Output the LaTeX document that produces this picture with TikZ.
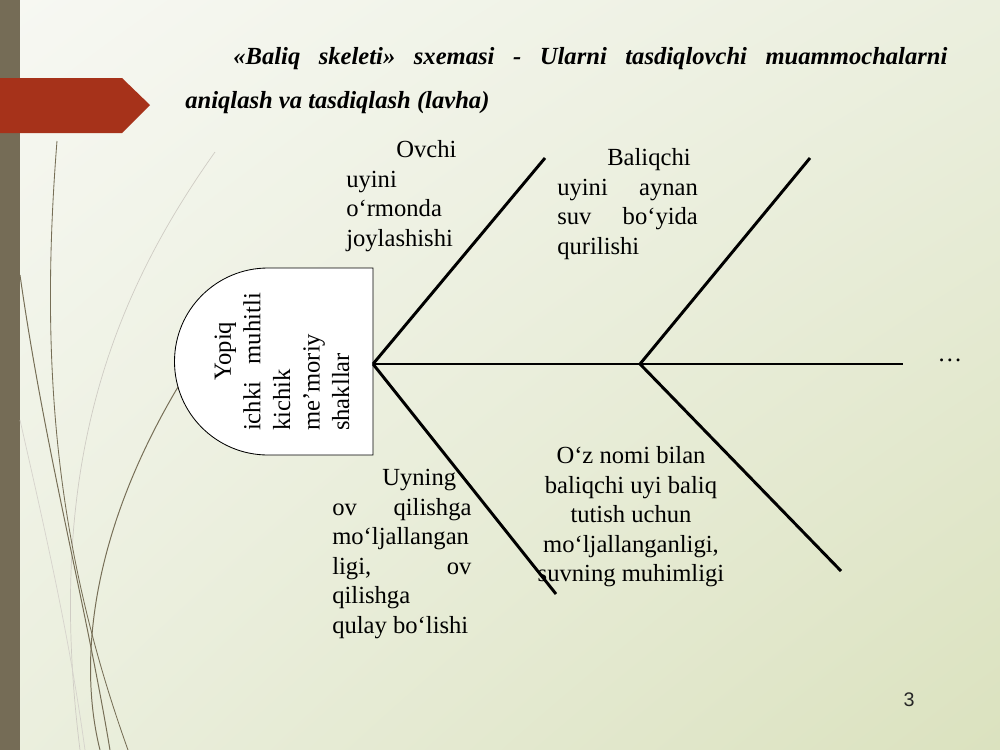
\documentclass[tikz,border=0pt]{standalone}
\usepackage{fontspec}
\setmainfont{Liberation Serif}[BoldFont=* Bold,ItalicFont=* Italic,BoldItalicFont=* Bold Italic]
\newfontfamily\pagefont{Liberation Sans}
\usetikzlibrary{shadings}

\definecolor{barbrown}{RGB}{117,108,86}
\definecolor{tabred}{RGB}{166,50,26}
\definecolor{bgtl}{RGB}{247,248,243}
\definecolor{bgmid}{RGB}{235,239,222}
\definecolor{bgbr}{RGB}{219,226,191}
\definecolor{stem}{RGB}{118,110,86}

\tikzset{
  bone/.style={line width=2.1pt},
  para/.style={align=justify,inner sep=0pt,font=\fontsize{17.5}{21}\selectfont},
  headtext/.style={para,rotate=90,text width=98pt},
  titletext/.style={align=justify,inner sep=0pt,text width=542pt,font=\fontsize{17.5}{31.3}\selectfont\bfseries\itshape},
}

\begin{document}
\begin{tikzpicture}[x=0.025cm,y=-0.025cm]
  \useasboundingbox (0,0) rectangle (1000,750);
  \shade[upper left=bgtl,upper right=bgmid,lower left=bgmid,lower right=bgbr] (0,0) rectangle (1000,750);
  \fill[barbrown] (0,0) rectangle (20,750);
  \fill[tabred] (0,78) -- (122,78) -- (150,105) -- (122,133) -- (0,133) -- cycle;
  \draw[stem!35,line width=0.5pt] (215,152) .. controls (110,300) and (45,470) .. (80,750);
  \draw[stem!30,line width=0.5pt] (20,420) .. controls (45,530) and (70,640) .. (85,750);
  \draw[stem,line width=0.6pt] (57,141) .. controls (38,380) and (60,560) .. (128,750);
  \draw[stem,line width=0.7pt] (20,275) .. controls (45,450) and (85,600) .. (110,750);
  \draw[stem,line width=0.7pt] (215,330) .. controls (95,500) and (75,650) .. (100,750);

  \draw[fill=white,line width=0.6pt] (373,268) -- (268,268) arc[start angle=270,end angle=90,radius=93.5] -- (373,455) -- cycle;
  \node[headtext] (head) at (282,362) {\hspace*{1.25cm}Yopiq\linebreak ichki muhitli\linebreak kichik\linebreak me’moriy\linebreak shakllar};

  \coordinate (j1) at (373,364);
  \coordinate (j2) at (640,364);
  \coordinate (tail) at (903,364);
  \coordinate (u1) at (545,158);
  \coordinate (d1) at (556,594);
  \coordinate (u2) at (810,158);
  \coordinate (d2) at (841,571);
  \draw[bone] (j1) -- (tail);
  \draw[bone] (j1) -- (u1);
  \draw[bone] (j1) -- (d1);
  \draw[bone] (j2) -- (u2);
  \draw[bone] (j2) -- (d2);

  \node[titletext,anchor=west] (title) at (185,81) {\hspace*{1.2cm}«Baliq skeleti» sxemasi - Ularni tasdiqlovchi muammochalarni\linebreak aniqlash va tasdiqlash (lavha)};
  \node[para,text width=78pt,anchor=west] (ovchi) at (346,196) {\hspace*{1.25cm}Ovchi\linebreak uyini\linebreak o‘rmonda\linebreak joylashishi};
  \node[para,text width=100pt,anchor=west] (baliqchi) at (557,204) {\hspace*{1.25cm}Baliqchi\linebreak uyini aynan\linebreak suv bo‘yida\linebreak qurilishi};
  \node[para,text width=99pt,anchor=west] (uyning) at (332,554) {\hspace*{1.25cm}Uyning\linebreak ov qilishga\linebreak mo‘ljallangan\linebreak ligi, ov\linebreak qilishga\linebreak qulay bo‘lishi};
  \node[para,align=center] (ozi) at (631,517) {O‘z nomi bilan\\baliqchi uyi baliq\\tutish uchun\\mo‘ljallanganligi,\\suvning muhimligi};
  \node[para,anchor=base] (dots) at (950,361) {…};
  \node[font=\pagefont\fontsize{14}{16}\selectfont,text=black!85] (page) at (909,700) {3};
\end{tikzpicture}
\end{document}
